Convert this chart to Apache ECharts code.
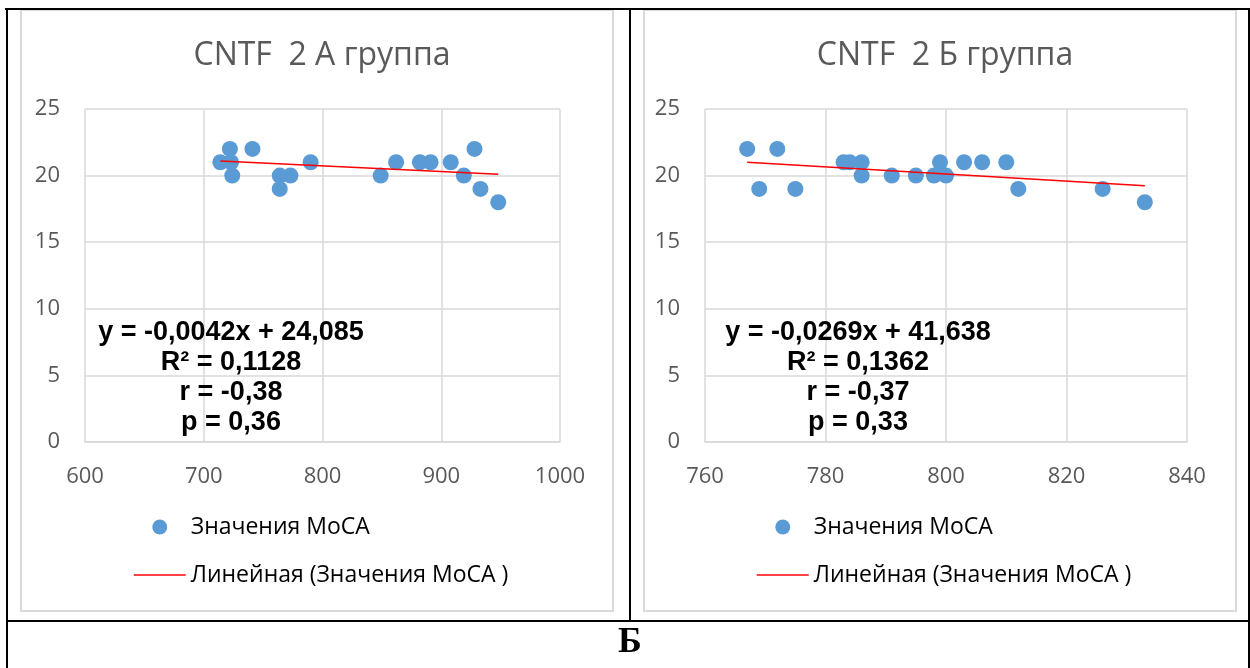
<!DOCTYPE html>
<html>
<head>
    <meta charset="utf-8">
    <title>CNTF 2</title>
    <script src="https://cdn.jsdelivr.net/npm/echarts@6/dist/echarts.min.js"></script>
    <style>
        html, body { margin: 0; padding: 0; background: #fff; }
        #chart { width: 1250px; height: 668px; }
    </style>
</head>
<body>
<div id="chart"></div>
<script>
    // данные
    var titleA = 'CNTF  2 А группа';
    var titleB = 'CNTF  2 Б группа';
    var seriesName = 'Значения МоСА';
    var trendName = 'Линейная (Значения МоСА )';

    var pointsA = [[714, 21], [723, 21], [722, 22], [724, 20], [741, 22], [764, 20], [764, 19], [773, 20], [790, 21],
        [849, 20], [862, 21], [882, 21], [891, 21], [908, 21], [919, 20], [928, 22], [933, 19], [948, 18]];
    var pointsB = [[767, 22], [772, 22], [769, 19], [775, 19], [783, 21], [784, 21], [786, 21], [786, 20], [791, 20],
        [795, 20], [798, 20], [800, 20], [799, 21], [803, 21], [806, 21], [810, 21], [812, 19], [826, 19], [833, 18]];

    // концы линии тренда
    var trendA = [[714, 21.09], [948, 20.10]];
    var trendB = [[767, 21.01], [833, 19.23]];

    var statsA = ['y = -0,0042x + 24,085', 'R² = 0,1128', 'r = -0,38', 'p = 0,36'];
    var statsB = ['y = -0,0269x + 41,638', 'R² = 0,1362', 'r = -0,37', 'p = 0,33'];

    var xTicksA = [600, 1000, 100];
    var xTicksB = [760, 840, 20];
    var yTicks = [0, 25, 5];

    var gridColor = '#d9d9d9';
    var labelColor = '#595959';
    var font = '"Open Sans", sans-serif';

    function xAxis(idx, t) {
        return {
            type: 'value', gridIndex: idx, min: t[0], max: t[1], interval: t[2],
            axisLine: { show: true, lineStyle: { color: gridColor, width: 1.5 } },
            axisTick: { show: false },
            splitLine: { show: true, lineStyle: { color: gridColor, width: 1.5 } },
            axisLabel: { color: labelColor, fontSize: 22, fontFamily: font, margin: 24, formatter: function (v) { return String(v); } }
        };
    }
    function yAxis(idx) {
        return {
            type: 'value', gridIndex: idx, min: yTicks[0], max: yTicks[1], interval: yTicks[2],
            axisLine: { show: false },
            axisTick: { show: false },
            splitLine: { show: true, lineStyle: { color: gridColor, width: 1.5 } },
            axisLabel: { color: labelColor, fontSize: 22, fontFamily: font, margin: 25 }
        };
    }
    function legend(left) {
        return {
            orient: 'vertical', left: left, top: 514, padding: 0,
            itemWidth: 52, itemHeight: 15, itemGap: 22,
            data: [
                { name: seriesName, icon: 'circle' },
                { name: trendName, itemStyle: { color: 'rgba(0,0,0,0)', opacity: 0, borderWidth: 0 } }
            ],
            lineStyle: { color: '#ff0000', width: 1.5 },
            textStyle: { color: '#000', fontSize: 23, fontFamily: font, lineHeight: 26 },
            selectedMode: false
        };
    }
    function statsText(cx, lines) {
        return {
            type: 'text', x: cx, y: 318,
            style: {
                text: lines.join('\n'), textAlign: 'center', textVerticalAlign: 'top',
                font: 'bold 27px "Liberation Sans", Arial, sans-serif', lineHeight: 30, fill: '#000'
            },
            z: 100
        };
    }
    function line(x1, y1, x2, y2, color, w) {
        return { type: 'line', shape: { x1: x1, y1: y1, x2: x2, y2: y2 }, style: { stroke: color, lineWidth: w }, silent: true };
    }
    function box(x, y, w, h) {
        return { type: 'rect', shape: { x: x, y: y, width: w, height: h }, style: { fill: '#fff', stroke: gridColor, lineWidth: 2 }, z: -10, silent: true };
    }

    var $echart = echarts.init(document.getElementById('chart'));
    $echart.setOption({
        animation: false,
        title: [
            { text: titleA, left: 317, top: 35, textAlign: 'center', textStyle: { color: labelColor, fontSize: 32, fontWeight: 'normal', fontFamily: font } },
            { text: titleB, left: 940, top: 35, textAlign: 'center', textStyle: { color: labelColor, fontSize: 32, fontWeight: 'normal', fontFamily: font } }
        ],
        grid: [
            { left: 85, top: 109, width: 475, height: 333 },
            { left: 705, top: 109, width: 482, height: 333 }
        ],
        xAxis: [xAxis(0, xTicksA), xAxis(1, xTicksB)],
        yAxis: [yAxis(0), yAxis(1)],
        legend: [legend(133), legend(756)],
        series: [
            { name: seriesName, type: 'scatter', xAxisIndex: 0, yAxisIndex: 0, data: pointsA, symbolSize: 16, itemStyle: { color: '#5b9bd5', opacity: 1 } },
            { name: trendName, type: 'line', xAxisIndex: 0, yAxisIndex: 0, data: trendA, symbol: 'none', lineStyle: { color: '#ff0000', width: 1.5 }, itemStyle: { color: '#ff0000' } },
            { name: seriesName, type: 'scatter', xAxisIndex: 1, yAxisIndex: 1, data: pointsB, symbolSize: 16, itemStyle: { color: '#5b9bd5', opacity: 1 } },
            { name: trendName, type: 'line', xAxisIndex: 1, yAxisIndex: 1, data: trendB, symbol: 'none', lineStyle: { color: '#ff0000', width: 1.5 }, itemStyle: { color: '#ff0000' } }
        ],
        graphic: [
            box(21, 10, 592, 601),
            box(644, 10, 592, 601),
            statsText(231, statsA),
            statsText(858, statsB),
            line(5, 9, 1250, 9, '#000', 2),
            line(7, 8, 7, 668, '#000', 2),
            line(630, 8, 630, 621, '#000', 2),
            line(1249, 8, 1249, 668, '#000', 2),
            line(6, 621, 1250, 621, '#000', 2),
            {
                type: 'text', x: 630, y: 643,
                style: { text: 'Б', textAlign: 'center', textVerticalAlign: 'middle', font: 'bold 36px "Liberation Serif", "Times New Roman", serif', fill: '#000' }
            }
        ]
    });
</script>
</body>
</html>
